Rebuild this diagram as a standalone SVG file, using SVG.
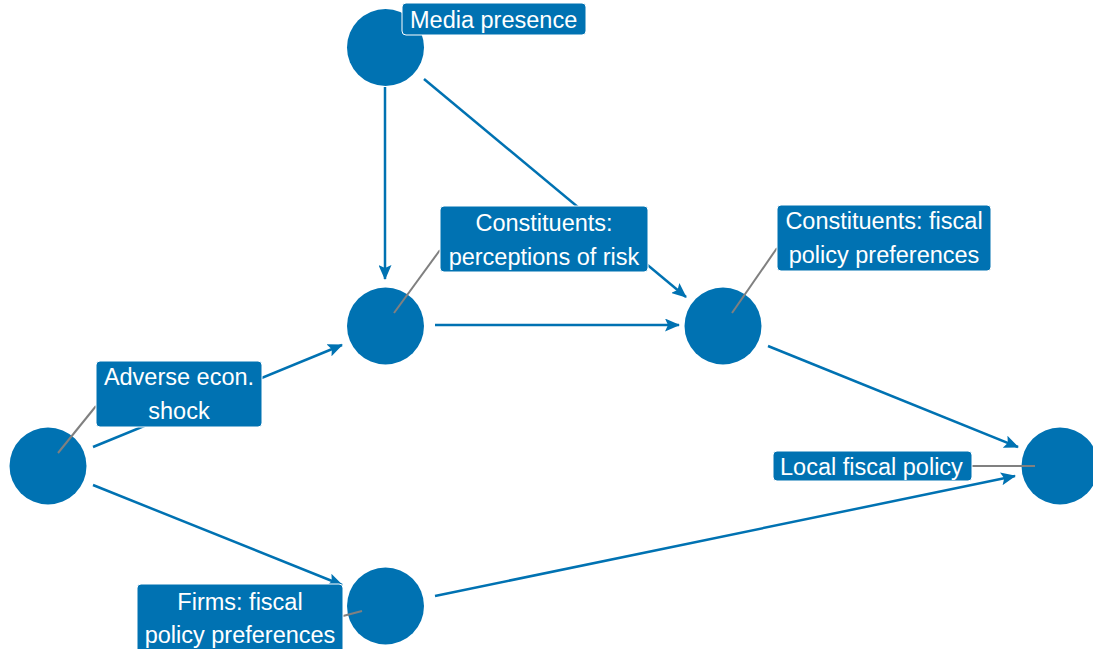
<svg xmlns="http://www.w3.org/2000/svg" width="1093" height="649" viewBox="0 0 1093 649">
<style>
.edge{stroke:#0072B2;stroke-width:2.5;fill:none;marker-end:url(#arr)}
.node{fill:#0072B2}
.lead{stroke:#808080;stroke-width:2}
.lab{fill:#0072B2;stroke:#ffffff;stroke-width:1}
.txt{fill:#ffffff;font-family:"Liberation Sans",Arial,sans-serif;font-size:23.5px}
.c{text-anchor:middle}
</style>
<defs>
<marker id="arr" markerUnits="userSpaceOnUse" markerWidth="15" markerHeight="13" refX="14" refY="6.5" orient="auto" viewBox="0 0 15 13">
<path d="M0,0 L15,6.5 L0,13 L3,6.5 z" fill="#0072B2"/>
</marker>
</defs>
<rect width="1093" height="649" fill="#ffffff"/>
<g id="connectors">
<line class="edge" x1="385" y1="87" x2="385" y2="279"/>
<line class="edge" x1="424" y1="79" x2="686" y2="297"/>
<line class="edge" x1="435" y1="325" x2="679" y2="325"/>
<line class="edge" x1="93" y1="447" x2="342" y2="345"/>
<line class="edge" x1="93" y1="485" x2="342" y2="585"/>
<line class="edge" x1="768" y1="346" x2="1018" y2="447"/>
<line class="edge" x1="435" y1="596" x2="1015" y2="476"/>
</g>
<g id="node-media">
<circle class="node" cx="385.5" cy="47.5" r="38.5"/>
<rect class="lab" x="402" y="3" width="184" height="32" rx="4"/>
<text class="txt" x="410" y="28">Media presence</text>
</g>
<g id="node-perceptions">
<circle class="node" cx="385.5" cy="326" r="38.5"/>
<line class="lead" x1="440" y1="250" x2="394" y2="313"/>
<rect class="lab" x="440" y="206" width="208" height="66" rx="4"/>
<text class="txt c" x="544" y="231">Constituents:</text>
<text class="txt c" x="544" y="265">perceptions of risk</text>
</g>
<g id="node-constituents">
<circle class="node" cx="723" cy="326" r="38.5"/>
<line class="lead" x1="777" y1="248" x2="732" y2="313"/>
<rect class="lab" x="777" y="205" width="214" height="66" rx="4"/>
<text class="txt c" x="884" y="229">Constituents: fiscal</text>
<text class="txt c" x="884" y="263">policy preferences</text>
</g>
<g id="node-shock">
<circle class="node" cx="48" cy="466" r="38.5"/>
<line class="lead" x1="96" y1="406" x2="58" y2="453"/>
<rect class="lab" x="96" y="361" width="166" height="66" rx="4"/>
<text class="txt c" x="179" y="385">Adverse econ.</text>
<text class="txt c" x="179" y="419">shock</text>
</g>
<g id="node-local">
<circle class="node" cx="1060" cy="466" r="38.5"/>
<line class="lead" x1="972" y1="466" x2="1035" y2="466"/>
<rect class="lab" x="773" y="451" width="199" height="30" rx="4"/>
<text class="txt" x="780" y="475">Local fiscal policy</text>
</g>
<g id="node-firms">
<circle class="node" cx="385.5" cy="606" r="38.5"/>
<line class="lead" x1="343" y1="616" x2="362" y2="611"/>
<rect class="lab" x="137" y="584" width="206" height="72" rx="4"/>
<text class="txt c" x="240" y="610">Firms: fiscal</text>
<text class="txt c" x="240" y="643">policy preferences</text>
</g>
</svg>
